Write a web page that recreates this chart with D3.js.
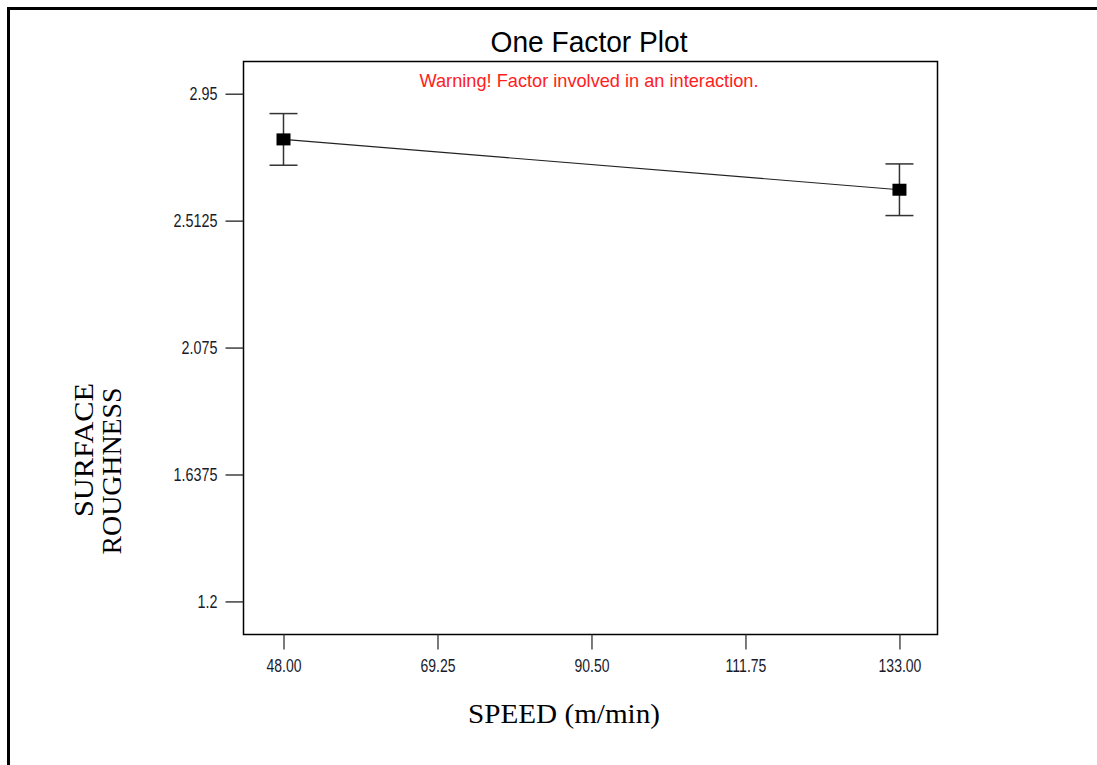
<!DOCTYPE html>
<html>
<head>
<meta charset="utf-8">
<script src="https://cdn.jsdelivr.net/npm/d3@7"></script>
<style>
  html, body { margin: 0; padding: 0; background: #fff; }
  svg { display: block; }
  .narrow { font-family: "Liberation Sans Narrow", "Arial Narrow", "Liberation Sans", Arial, sans-serif; }
  .serif { font-family: "Liberation Serif", "Times New Roman", serif; }
</style>
</head>
<body>
<svg id="chart" width="1097" height="765"></svg>
<script>
// Factor levels (cutting speed, m/min)
const speedLevels = [48, 133];
// Predicted surface roughness at each level
const roughness = [2.7925, 2.619];
// Half-width of the least-significant-difference bars
const lsdHalf = [0.089, 0.089];
// Axis tick values and labels
const yTicks = [1.2, 1.6375, 2.075, 2.5125, 2.95];
const yTickLabels = ["1.2", "1.6375", "2.075", "2.5125", "2.95"];
const xTicks = [48, 69.25, 90.5, 111.75, 133];
const xTickLabels = ["48.00", "69.25", "90.50", "111.75", "133.00"];

const titleText = "One Factor Plot";
const warningText = "Warning! Factor involved in an interaction.";
const xTitle = "SPEED (m/min)";
const yTitleLines = ["SURFACE", "ROUGHNESS"];

const svg = d3.select("#chart");

// Condense a text element horizontally (narrow face look)
function condense(sel, factor) {
  sel.each(function () {
    const w = this.getComputedTextLength();
    d3.select(this)
      .attr("textLength", (w * factor).toFixed(1))
      .attr("lengthAdjust", "spacingAndGlyphs");
  });
}

// Outer frame (left and top edges)
svg.append("path")
  .attr("d", "M8.5,765 L8.5,8.5 L1097,8.5")
  .attr("fill", "none")
  .attr("stroke", "#000")
  .attr("stroke-width", 3);

const plot = { left: 243.5, top: 61.5, right: 937.5, bottom: 634.5 };

const x = d3.scaleLinear()
  .domain([42.48, 138.25])
  .range([plot.left, plot.right]);
const y = d3.scaleLinear()
  .domain([1.086, 3.061])
  .range([plot.bottom, plot.top]);

// Plot box
svg.append("rect")
  .attr("x", plot.left).attr("y", plot.top)
  .attr("width", plot.right - plot.left)
  .attr("height", plot.bottom - plot.top)
  .attr("fill", "none")
  .attr("stroke", "#000")
  .attr("stroke-width", 1.5);

// Y axis
const yAxis = d3.axisLeft(y)
  .tickValues(yTicks)
  .tickFormat((d, i) => yTickLabels[i])
  .tickSize(18)
  .tickPadding(8);
const gy = svg.append("g")
  .attr("transform", `translate(${plot.left},0)`)
  .attr("class", "narrow")
  .call(yAxis);
gy.select(".domain").remove();
gy.selectAll(".tick line").attr("stroke", "#222").attr("stroke-width", 1.3);
gy.selectAll(".tick text")
  .attr("font-size", 17.5)
  .attr("fill", "#1a1a2a")
  .call(condense, 0.82);

// X axis
const xAxis = d3.axisBottom(x)
  .tickValues(xTicks)
  .tickFormat((d, i) => xTickLabels[i])
  .tickSize(15)
  .tickPadding(10);
const gx = svg.append("g")
  .attr("transform", `translate(0,${plot.bottom})`)
  .attr("class", "narrow")
  .call(xAxis);
gx.select(".domain").remove();
gx.selectAll(".tick line").attr("stroke", "#333").attr("stroke-width", 1.3);
gx.selectAll(".tick text")
  .attr("font-size", 17.5)
  .attr("fill", "#1a1a2a")
  .call(condense, 0.8);

// Response line joining the two levels
const pts = speedLevels.map((s, i) => ({ s, r: roughness[i], h: lsdHalf[i] }));
svg.append("path")
  .datum(pts)
  .attr("d", d3.line().x(d => x(d.s)).y(d => y(d.r)))
  .attr("fill", "none")
  .attr("stroke", "#222")
  .attr("stroke-width", 1.2);

// LSD bars
const capHalf = 14;
const bars = svg.append("g").selectAll("g").data(pts).join("g");
bars.append("line")
  .attr("x1", d => x(d.s)).attr("x2", d => x(d.s))
  .attr("y1", d => y(d.r + d.h)).attr("y2", d => y(d.r - d.h))
  .attr("stroke", "#333").attr("stroke-width", 1.5);
bars.append("line")
  .attr("x1", d => x(d.s) - capHalf).attr("x2", d => x(d.s) + capHalf)
  .attr("y1", d => y(d.r + d.h)).attr("y2", d => y(d.r + d.h))
  .attr("stroke", "#333").attr("stroke-width", 1.5);
bars.append("line")
  .attr("x1", d => x(d.s) - capHalf).attr("x2", d => x(d.s) + capHalf)
  .attr("y1", d => y(d.r - d.h)).attr("y2", d => y(d.r - d.h))
  .attr("stroke", "#333").attr("stroke-width", 1.5);

// Square markers
bars.append("rect")
  .attr("x", d => x(d.s) - 7).attr("y", d => y(d.r) - 6)
  .attr("width", 14).attr("height", 12)
  .attr("fill", "#000");

// Title
svg.append("text")
  .attr("class", "narrow")
  .attr("x", 589).attr("y", 52)
  .attr("text-anchor", "middle")
  .attr("font-size", 30)
  .attr("fill", "#000")
  .attr("textLength", 197)
  .attr("lengthAdjust", "spacingAndGlyphs")
  .text(titleText);

// Interaction warning
svg.append("text")
  .attr("class", "narrow")
  .attr("x", 589).attr("y", 87)
  .attr("text-anchor", "middle")
  .attr("font-size", 19)
  .attr("fill", "#ff2020")
  .attr("textLength", 339)
  .attr("lengthAdjust", "spacingAndGlyphs")
  .text(warningText);

// X axis title
svg.append("text")
  .attr("class", "serif")
  .attr("x", 564).attr("y", 723)
  .attr("text-anchor", "middle")
  .attr("font-size", 27.5)
  .attr("fill", "#000")
  .attr("textLength", 192)
  .attr("lengthAdjust", "spacingAndGlyphs")
  .text(xTitle);

// Y axis title (two rotated lines)
const yTitlePos = [{ cx: 93, cy: 450, len: 134 }, { cx: 121, cy: 471, len: 167 }];
yTitleLines.forEach((t, i) => {
  svg.append("text")
    .attr("class", "serif")
    .attr("transform", `translate(${yTitlePos[i].cx},${yTitlePos[i].cy}) rotate(-90)`)
    .attr("text-anchor", "middle")
    .attr("font-size", 28)
    .attr("fill", "#000")
    .attr("textLength", yTitlePos[i].len)
    .attr("lengthAdjust", "spacingAndGlyphs")
    .text(t);
});
</script>
</body>
</html>
